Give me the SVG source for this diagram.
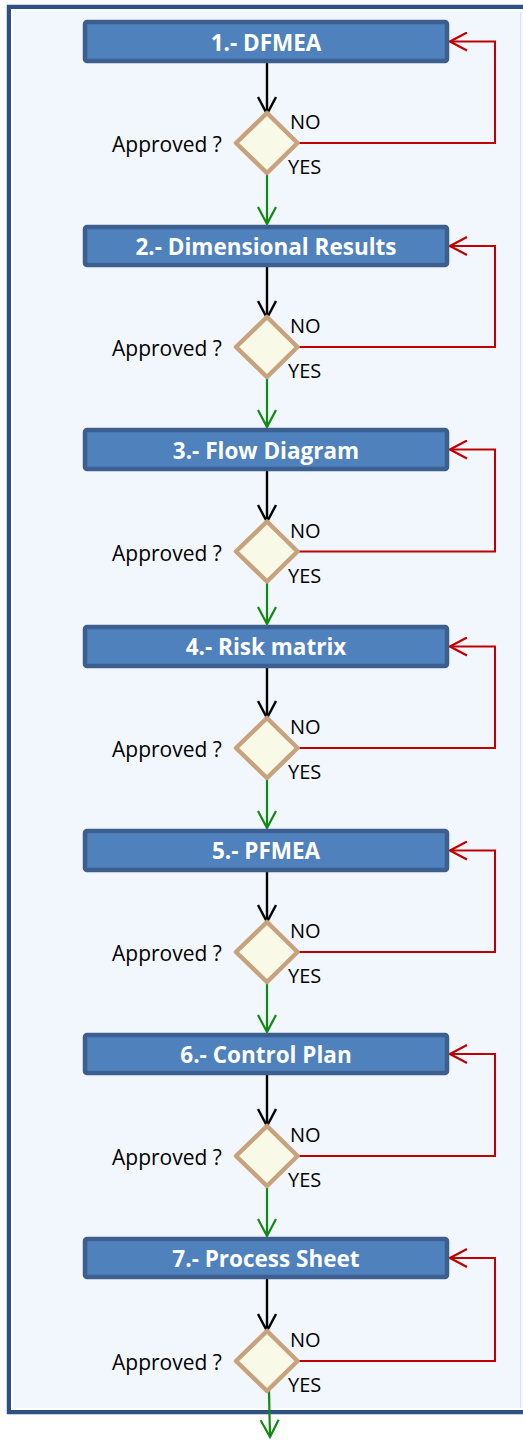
<svg xmlns="http://www.w3.org/2000/svg" width="523" height="1440" viewBox="0 0 523 1440">
<style>
.frame{fill:#F2F7FE;stroke:#2E5083;stroke-width:4.5}
.frame-in{fill:none;stroke:#FFFFFF;stroke-width:2}
.box{fill:#4F81BD;stroke:#3C5F8F;stroke-width:4.5}
.btxt{font-family:"Open Sans","Liberation Sans",sans-serif;font-weight:bold;font-size:22.5px;fill:#FFFFFF;text-anchor:middle}
.dia{fill:#F8FAE7;stroke:#C8A27D;stroke-width:4.5;stroke-linejoin:round}
.lbl{font-family:"Open Sans","Liberation Sans",sans-serif;font-size:21px;fill:#000000}
.yn{font-family:"Open Sans","Liberation Sans",sans-serif;font-size:20px;fill:#000000}
.blk{fill:none;stroke:#000000;stroke-width:2.4;marker-end:url(#ab)}
.grn{fill:none;stroke:#108A10;stroke-width:2.2;marker-end:url(#ag)}
.red{fill:none;stroke:#C00000;stroke-width:2;marker-end:url(#ar)}
</style>
<defs>
<marker id="ab" viewBox="0 0 20 20" markerWidth="20" markerHeight="20" refX="18" refY="10" orient="auto" markerUnits="userSpaceOnUse"><path d="M1,1 L18,10 L1,19" fill="none" stroke="#000000" stroke-width="2.4"/></marker>
<marker id="ag" viewBox="0 0 20 20" markerWidth="20" markerHeight="20" refX="18" refY="10" orient="auto" markerUnits="userSpaceOnUse"><path d="M1,1 L18,10 L1,19" fill="none" stroke="#108A10" stroke-width="2.2"/></marker>
<marker id="ar" viewBox="0 0 20 20" markerWidth="20" markerHeight="20" refX="18" refY="10" orient="auto" markerUnits="userSpaceOnUse"><path d="M1,1 L18,10 L1,19" fill="none" stroke="#C00000" stroke-width="2.2"/></marker>
</defs>
<rect width="523" height="1440" fill="#FFFFFF"/>
<rect class="frame" x="9" y="7" width="540" height="1405"/>
<rect class="frame-in" x="12" y="10" width="530" height="1399"/>
<line x1="520.5" y1="12" x2="520.5" y2="1408" stroke="#DDE3EC" stroke-width="1"/>

<g id="connectors">
<path class="blk" d="M267,63 L267,114"/>
<path class="grn" d="M267,174 L267,224"/>
<path class="red" d="M298,143 L495,143 L495,41.5 L450,41.5"/>

<path class="blk" d="M267,267 L267,318"/>
<path class="grn" d="M267,378 L267,427"/>
<path class="red" d="M298,347 L495,347 L495,246 L450,246"/>

<path class="blk" d="M267,471 L267,522"/>
<path class="grn" d="M267,582 L267,624"/>
<path class="red" d="M298,551.5 L495,551.5 L495,449.5 L450,449.5"/>

<path class="blk" d="M267,668 L267,718"/>
<path class="grn" d="M267,778 L267,828"/>
<path class="red" d="M298,748 L495,748 L495,646.5 L450,646.5"/>

<path class="blk" d="M267,872 L267,922"/>
<path class="grn" d="M267,982 L267,1032"/>
<path class="red" d="M298,952 L495,952 L495,850.5 L450,850.5"/>

<path class="blk" d="M267,1075 L267,1126"/>
<path class="grn" d="M267,1186 L267,1236"/>
<path class="red" d="M298,1156 L495,1156 L495,1054 L450,1054"/>

<path class="blk" d="M267,1279 L267,1331"/>
<path class="grn" d="M269,1391 L270,1437"/>
<path class="red" d="M298,1361 L495,1361 L495,1258 L450,1258"/>
</g>

<g id="step1"><rect class="box" x="85" y="22" width="362" height="39" rx="2"/><text class="btxt" x="266" y="50.5">1.- DFMEA</text></g>
<g id="decision1"><polygon class="dia" points="267,113 297.5,143 267,173 236,143"/><text class="lbl" x="112" y="152">Approved ?</text><text class="yn" x="290" y="129">NO</text><text class="yn" x="288" y="174">YES</text></g>

<g id="step2"><rect class="box" x="85" y="227" width="362" height="38" rx="2"/><text class="btxt" x="266" y="255">2.- Dimensional Results</text></g>
<g id="decision2"><polygon class="dia" points="267,317 297.5,347 267,377 236,347"/><text class="lbl" x="112" y="356">Approved ?</text><text class="yn" x="290" y="333">NO</text><text class="yn" x="288" y="378">YES</text></g>

<g id="step3"><rect class="box" x="85" y="430" width="362" height="39" rx="2"/><text class="btxt" x="266" y="458.5">3.- Flow Diagram</text></g>
<g id="decision3"><polygon class="dia" points="267,521.5 297.5,551.5 267,581.5 236,551.5"/><text class="lbl" x="112" y="560.5">Approved ?</text><text class="yn" x="290" y="537.5">NO</text><text class="yn" x="288" y="582.5">YES</text></g>

<g id="step4"><rect class="box" x="85" y="627" width="362" height="39" rx="2"/><text class="btxt" x="266" y="655">4.- Risk matrix</text></g>
<g id="decision4"><polygon class="dia" points="267,718 297.5,748 267,778 236,748"/><text class="lbl" x="112" y="757">Approved ?</text><text class="yn" x="290" y="734">NO</text><text class="yn" x="288" y="779">YES</text></g>

<g id="step5"><rect class="box" x="85" y="831" width="362" height="39" rx="2"/><text class="btxt" x="266" y="859">5.- PFMEA</text></g>
<g id="decision5"><polygon class="dia" points="267,922 297.5,952 267,982 236,952"/><text class="lbl" x="112" y="961">Approved ?</text><text class="yn" x="290" y="938">NO</text><text class="yn" x="288" y="983">YES</text></g>

<g id="step6"><rect class="box" x="85" y="1035" width="362" height="38" rx="2"/><text class="btxt" x="266" y="1063">6.- Control Plan</text></g>
<g id="decision6"><polygon class="dia" points="267,1126 297.5,1156 267,1186 236,1156"/><text class="lbl" x="112" y="1165">Approved ?</text><text class="yn" x="290" y="1142">NO</text><text class="yn" x="288" y="1187">YES</text></g>

<g id="step7"><rect class="box" x="85" y="1239" width="362" height="38" rx="2"/><text class="btxt" x="266" y="1267">7.- Process Sheet</text></g>
<g id="decision7"><polygon class="dia" points="267,1331 297.5,1361 267,1391 236,1361"/><text class="lbl" x="112" y="1370">Approved ?</text><text class="yn" x="290" y="1347">NO</text><text class="yn" x="288" y="1392">YES</text></g>
</svg>
